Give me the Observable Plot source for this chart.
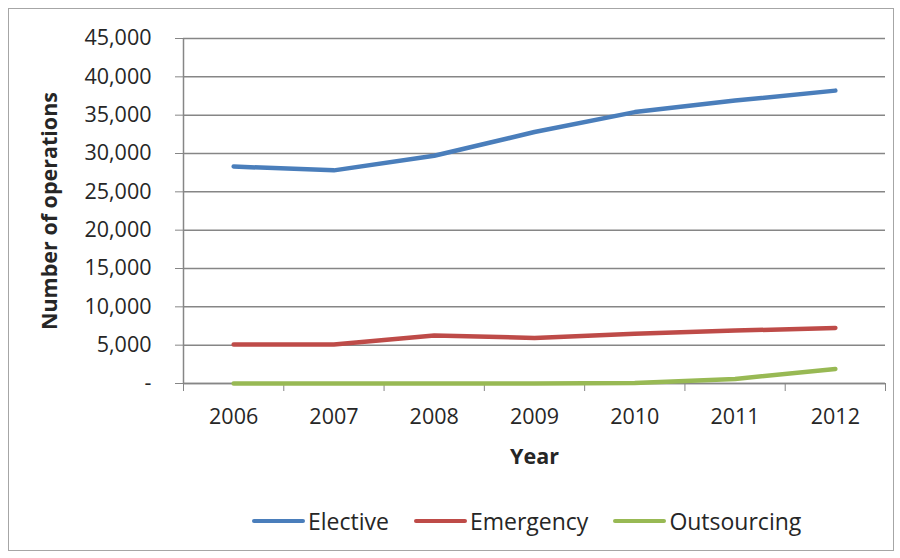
<!DOCTYPE html>
<html>
<head>
<meta charset="utf-8">
<script src="https://cdn.jsdelivr.net/npm/d3@7"></script>
<script src="https://cdn.jsdelivr.net/npm/@observablehq/plot@0.6"></script>
<style>
  html, body { margin: 0; padding: 0; background: #fff; }
  #wrap { position: relative; width: 900px; height: 558px; overflow: hidden; font-family: "Open Sans", sans-serif; }
  #frame { position: absolute; left: 8px; top: 8px; width: 886px; height: 543px; border: 1px solid #a6a6a6; box-sizing: border-box; }
  #chart { position: absolute; left: 0; top: 0; }
  #legend { position: absolute; left: 252px; top: 505px; display: flex; font-size: 23px; line-height: 32px; color: #262626; }
  .item { display: flex; align-items: center; margin-right: 25px; }
  .swatch { width: 53px; height: 4px; margin-right: 3px; border-radius: 2px; }
</style>
</head>
<body>
<div id="wrap">
  <div id="frame"></div>
  <div id="chart"></div>
  <div id="legend"></div>
</div>
<script>
// Yearly operation counts by type
const years = [2006, 2007, 2008, 2009, 2010, 2011, 2012];
const elective = [28300, 27800, 29700, 32800, 35400, 36900, 38200];
const emergency = [5100, 5100, 6250, 5950, 6500, 6900, 7250];
const outsourcing = [0, 0, 0, 0, 50, 600, 1900];
const seriesNames = ["Elective", "Emergency", "Outsourcing"];
const seriesColors = ["#4a7ebb", "#be4b48", "#98b954"];
const yTicks = d3.range(0, 45001, 5000);

const seriesValues = [elective, emergency, outsourcing];
const rows = seriesNames.flatMap((name, i) =>
  years.map((year, j) => ({series: name, year, value: seriesValues[i][j]}))
);

// category boundaries for the tick marks between years
const boundaries = d3.range(years[0] - 0.5, years[years.length - 1] + 1, 1);

const axisStroke = "#868686";

const plot = Plot.plot({
  width: 900,
  height: 490,
  marginLeft: 183,
  marginRight: 15,
  marginTop: 38,
  marginBottom: 107,
  style: {fontFamily: "Open Sans, sans-serif", fontSize: "21.5px", color: "#262626", background: "transparent"},
  x: {type: "linear", domain: [boundaries[0], boundaries[boundaries.length - 1]]},
  y: {domain: [0, 45000]},
  color: {domain: seriesNames, range: seriesColors},
  marks: [
    Plot.gridY(yTicks, {stroke: axisStroke, strokeOpacity: 1, strokeWidth: 1.5}),
    Plot.ruleX([boundaries[0]], {stroke: axisStroke, strokeWidth: 1.5}),
    Plot.ruleY([0], {stroke: axisStroke, strokeWidth: 1.5}),
    Plot.axisY({
      ticks: yTicks,
      tickSize: 8,
      tickPadding: 24,
      stroke: axisStroke,
      tickFormat: d => d === 0 ? "-" : d3.format(",")(d),
      label: "Number of operations",
      labelAnchor: "center",
      labelArrow: "none",
      labelOffset: 142
    }),
    Plot.axisX({
      ticks: boundaries,
      tickSize: 8,
      stroke: axisStroke,
      tickFormat: () => "",
      label: null
    }),
    Plot.axisX({
      ticks: years,
      tickSize: 0,
      tickPadding: 25,
      tickFormat: d => String(d),
      label: "Year",
      labelAnchor: "center",
      labelArrow: "none",
      labelOffset: 80
    }),
    Plot.line(rows, {
      x: "year",
      y: "value",
      z: "series",
      stroke: "series",
      strokeWidth: 4.5,
      strokeLinecap: "round",
      strokeLinejoin: "round"
    })
  ]
});

document.getElementById("chart").appendChild(plot);

// bold axis titles
plot.querySelectorAll("g[aria-label='y-axis label'] text, g[aria-label='x-axis label'] text").forEach(t => {
  t.setAttribute("font-weight", "bold");
});

// legend
const legend = document.getElementById("legend");
seriesNames.forEach((name, i) => {
  const item = document.createElement("div");
  item.className = "item";
  const sw = document.createElement("div");
  sw.className = "swatch";
  sw.style.background = seriesColors[i];
  const label = document.createElement("span");
  label.textContent = name;
  item.appendChild(sw);
  item.appendChild(label);
  legend.appendChild(item);
});
</script>
</body>
</html>
